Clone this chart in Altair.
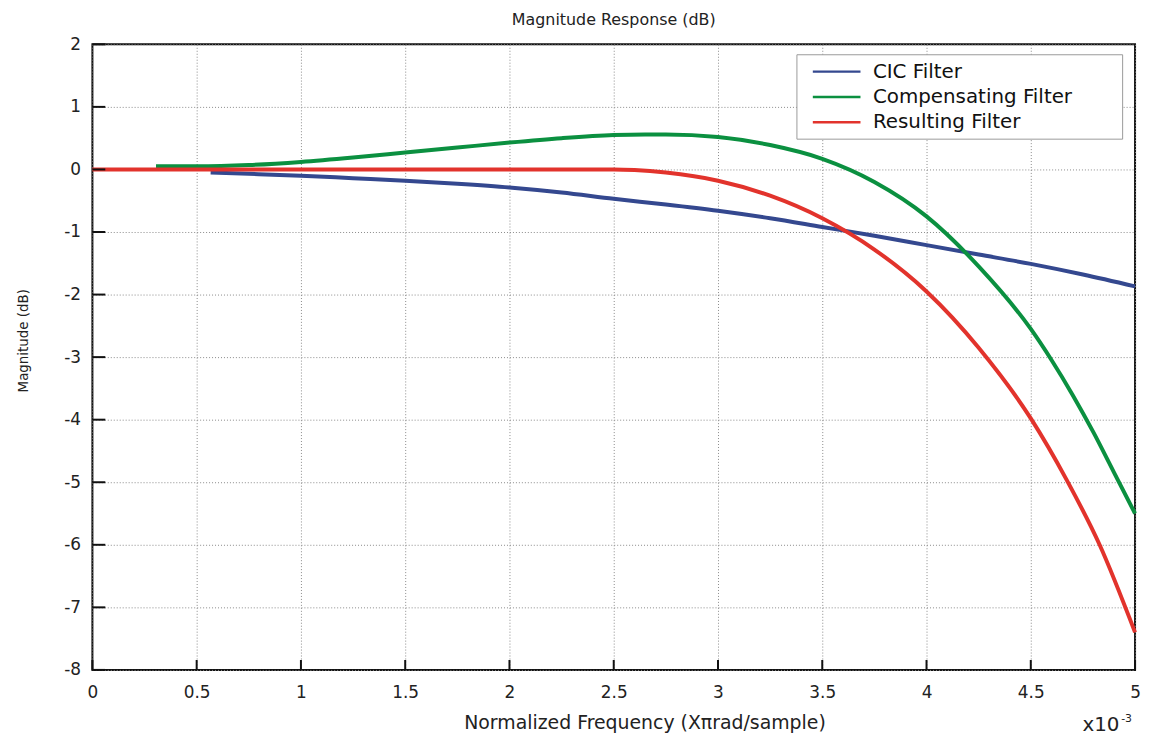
import altair as alt
import pandas as pd

series_names = ["CIC Filter", "Compensating Filter", "Resulting Filter"]
series_colors = ["#34488f", "#0b9040", "#e2332c"]

cic_x = [0.567, 0.75, 1.0, 1.25, 1.5, 1.75, 2.0, 2.25, 2.5, 2.75, 3.0, 3.25, 3.5, 3.75, 4.0, 4.25, 4.5, 4.75, 5.0]
cic_y = [-0.05, -0.07, -0.10, -0.14, -0.18, -0.23, -0.29, -0.37, -0.47, -0.56, -0.66, -0.78, -0.92, -1.06, -1.21, -1.36, -1.51, -1.68, -1.87]

comp_x = [0.305, 0.5, 0.75, 1.0, 1.25, 1.5, 1.75, 2.0, 2.25, 2.5, 2.65, 2.75, 3.0, 3.25, 3.5, 3.75, 4.0, 4.25, 4.5, 4.6, 4.7, 4.8, 4.9, 5.0]
comp_y = [0.05, 0.05, 0.07, 0.12, 0.19, 0.27, 0.35, 0.43, 0.50, 0.55, 0.56, 0.56, 0.52, 0.39, 0.17, -0.20, -0.75, -1.55, -2.55, -3.05, -3.60, -4.20, -4.85, -5.50]

res_x = [0.0, 0.5, 1.0, 1.5, 2.0, 2.5, 2.6, 2.75, 3.0, 3.25, 3.5, 3.75, 4.0, 4.25, 4.5, 4.67, 4.83, 5.0]
res_y = [0.0, 0.0, 0.0, 0.0, 0.0, 0.0, -0.01, -0.05, -0.18, -0.42, -0.78, -1.28, -1.95, -2.85, -3.98, -4.95, -6.0, -7.4]

x_ticks = [0, 0.5, 1, 1.5, 2, 2.5, 3, 3.5, 4, 4.5, 5]
y_ticks = [2, 1, 0, -1, -2, -3, -4, -5, -6, -7, -8]

rows = []
for name, xs_, ys_ in zip(series_names, [cic_x, comp_x, res_x], [cic_y, comp_y, res_y]):
    for a, b in zip(xs_, ys_):
        rows.append({"x": a, "y": b, "series": name})
df = pd.DataFrame(rows)

FONT = "DejaVu Sans"
W, H = 1050, 630

xscale = alt.Scale(domain=[0, 5], nice=False, zero=False)
yscale = alt.Scale(domain=[-8, 2], nice=False, zero=False)

xaxis = alt.Axis(
    values=x_ticks, labelExpr="'' + datum.value", title="Normalized Frequency (Xπrad/sample)",
    grid=True, gridDash=[1, 2], gridColor="#8a8a8a", gridWidth=1,
    ticks=False, domain=False, labelPadding=15, labelFontSize=17, labelFont=FONT,
    labelColor="#222", titleFont=FONT, titleFontSize=19, titleFontWeight="normal",
    titleColor="#222", titleX=556, titleY=59, titleAlign="center", titleBaseline="alphabetic",
    labelFlush=False, labelOverlap=False,
)
yaxis = alt.Axis(
    values=y_ticks, labelExpr="'' + datum.value", title="Magnitude (dB)",
    grid=True, gridDash=[1, 2], gridColor="#8a8a8a", gridWidth=1,
    ticks=False, domain=False, labelPadding=12, labelFontSize=17, labelFont=FONT,
    labelColor="#222", titleFont="DejaVu Sans Condensed", titleFontSize=15,
    titleFontWeight="normal", titleColor="#222", titleX=-70, titleY=298,
    titleAngle=-90, titleAlign="center", titleBaseline="middle",
    labelFlush=False, labelOverlap=False,
)

lines = alt.Chart(df).mark_line(strokeWidth=4, interpolate="monotone").encode(
    x=alt.X("x:Q", scale=xscale, axis=xaxis),
    y=alt.Y("y:Q", scale=yscale, axis=yaxis),
    color=alt.Color(
        "series:N",
        scale=alt.Scale(domain=series_names, range=series_colors),
        legend=alt.Legend(
            title=None, orient="none", legendX=709, legendY=10,
            strokeColor="#9a9a9a", fillColor="white", padding=6,
            symbolType="M-2.4,0H2.4", symbolSize=400, symbolStrokeWidth=2.5,
            symbolOffset=23, labelFont=FONT, labelFontSize=20, labelColor="#111",
            labelOffset=25, rowPadding=3.5, labelLimit=500,
            labelExpr="datum.label + '\u2800\u2800\u2800'",
        ),
    ),
)

xt = alt.Chart(pd.DataFrame({"tx": x_ticks})).mark_rule(color="#111", strokeWidth=2).encode(
    x=alt.X("tx:Q", scale=xscale, axis=xaxis),
    y=alt.value(H), y2=alt.value(H - 10),
)
yt = alt.Chart(pd.DataFrame({"ty": y_ticks})).mark_rule(color="#111", strokeWidth=2).encode(
    y=alt.Y("ty:Q", scale=yscale, axis=yaxis),
    x=alt.value(0), x2=alt.value(13),
)

exp_base = alt.Chart(pd.DataFrame({"t": ["x10"]})).mark_text(
    font=FONT, fontSize=20, align="left", baseline="alphabetic", color="#222"
).encode(x=alt.value(997), y=alt.value(692), text="t:N")
exp_sup = alt.Chart(pd.DataFrame({"t": ["-3"]})).mark_text(
    font=FONT, fontSize=11, align="left", baseline="alphabetic", color="#222"
).encode(x=alt.value(1036), y=alt.value(682), text="t:N")

chart = alt.layer(lines, xt, yt, exp_base, exp_sup).properties(
    width=W, height=H,
    title=alt.TitleParams("Magnitude Response (dB)", font=FONT, fontSize=16,
                          fontWeight="normal", color="#222", offset=7, anchor="middle"),
    autosize=alt.AutoSizeParams(type="none"),
    padding={"left": 85, "top": 34, "right": 7, "bottom": 68},
).configure_view(stroke="#111", strokeWidth=2)

chart.save("out.html", embed_options={"renderer": "svg", "actions": False})
